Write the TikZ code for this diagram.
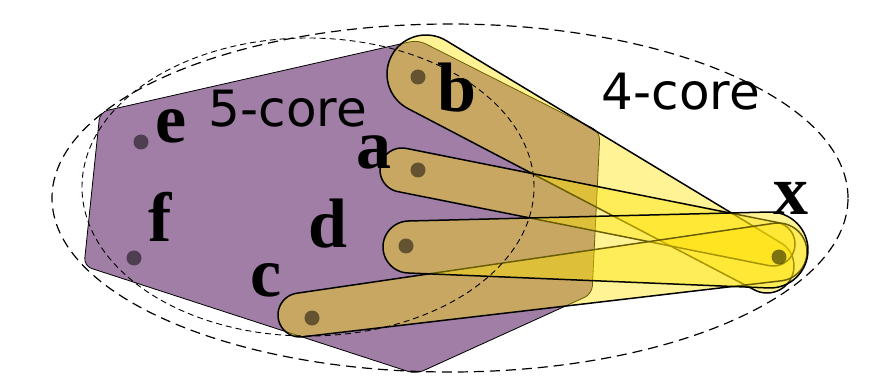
\documentclass[tikz,border=0pt]{standalone}
\usepackage{fontspec}
\setmainfont{Liberation Serif}
\newfontfamily\corefont{DejaVu Sans}
\definecolor{purp}{RGB}{160,126,166}
\definecolor{hyel}{RGB}{255,226,5}
\tikzset{
  blob/.style={fill=hyel, fill opacity=0.42, draw=black, draw opacity=1, line width=1.5pt, line join=round},
  purpzone/.style={fill=purp, draw=black, line width=0.8pt, rounded corners=8pt},
  vert/.style={circle, fill=black, fill opacity=0.5, minimum size=15pt, inner sep=0pt},
  lab/.style={font=\fontsize{70}{70}\selectfont\bfseries, anchor=base, inner sep=0pt},
  corelab/.style={font=\corefont\fontsize{50}{50}\selectfont, anchor=base, inner sep=0pt},
  outerdash/.style={draw=black, line width=1.2pt, dash pattern=on 10pt off 6pt},
  innerdash/.style={draw=black, line width=0.9pt, dash pattern=on 6pt off 4pt},
}
% hull of two circles: [style] cx1 cy1 r1 cx2 cy2 r2
\newcommand\hblob[7][]{%
  \pgfmathsetmacro\hbdx{#5-#2}%
  \pgfmathsetmacro\hbdy{#6-#3}%
  \pgfmathsetmacro\hbdd{100*veclen(\hbdx/100,\hbdy/100)}%
  \pgfmathsetmacro\hbth{atan2(\hbdy,\hbdx)}%
  \pgfmathsetmacro\hbph{asin((#4-#7)/\hbdd)}%
  \pgfmathsetmacro\hbA{\hbth-90+\hbph}%
  \pgfmathsetmacro\hbB{\hbth+90-\hbph}%
  \pgfmathsetmacro\hbC{\hbth+270+\hbph}%
  \path[blob,#1] plot[domain=\hbA:\hbB,samples=40,variable=\t] ({#5+#7*cos(\t)},{#6+#7*sin(\t)})
    -- plot[domain=\hbB:\hbC,samples=40,variable=\t] ({#2+#4*cos(\t)},{#3+#4*sin(\t)}) -- cycle;%
}
\begin{document}
\begin{tikzpicture}[x=1pt,y=-1pt]
\useasboundingbox (0,0) rectangle (889,379);
% 5-core region
\path[purpzone] (100,112) -- (418,40) -- (600,132) -- (592,294) -- (416,374) -- (84,266) -- cycle;
% hyperedges
\hblob{426}{74}{39}{767}{266}{27}
\hblob{402}{170}{22}{773}{244}{22}
\hblob{300}{315}{22}{778}{252}{29}
\hblob{409}{247}{26}{770}{250}{38}
% vertices
\node[vert] (e) at (141,142) {};
\node[vert] (f) at (134,258) {};
\node[vert] (b) at (418,77) {};
\node[vert] (a) at (418,170) {};
\node[vert] (d) at (406,246) {};
\node[vert] (c) at (312,318) {};
\node[vert] (x) at (779,257) {};
% cores
\draw[outerdash] (450,198) ellipse [x radius=398pt, y radius=174pt];
\draw[innerdash] (308,187) ellipse [x radius=226pt, y radius=149pt];
% labels
\node[lab] (le) at (171,143) {e};
\node[lab] (lf) at (160,242) {f};
\node[lab] (ld) at (328,248) {d};
\node[lab] (lc) at (266,297) {c};
\node[lab] (la) at (374,169) {a};
\node[lab] (lb) at (457,112) {b};
\node[lab] (lx) at (791,215) {x};
\node[corelab] (c5) at (288,127) {5-core};
\node[corelab] (c4) at (681,110) {4-core};
\end{tikzpicture}
\end{document}
